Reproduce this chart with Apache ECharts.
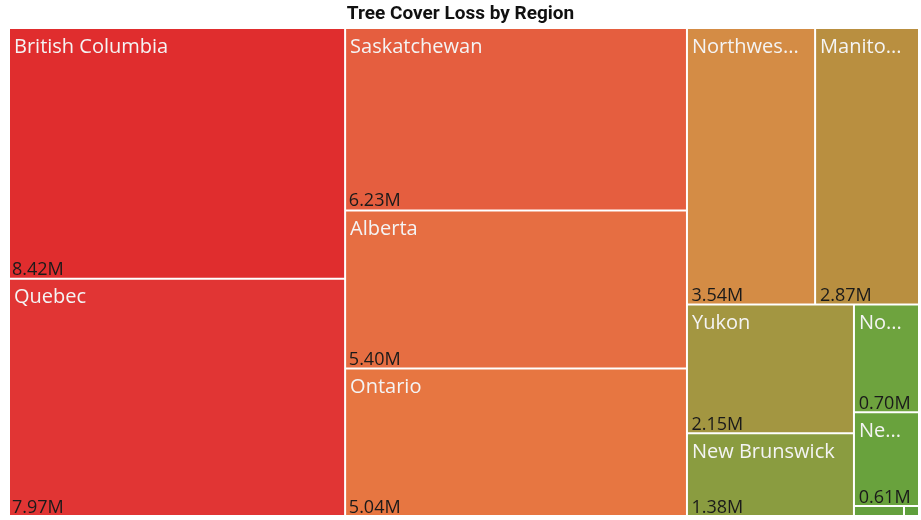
<!DOCTYPE html>
<html lang="en">
  <head>
    <meta charset="UTF-8" />
    <script src="https://cdn.jsdelivr.net/npm/echarts@6/dist/echarts.min.js"></script>
    <title>Tree Cover Loss by Region</title>
    <style>
      body { margin: 0; background: #fff; }
      #container { width: 921px; height: 520px; }
    </style>
  </head>
  <body>
    <div id="container"></div>
    <script>
      // tree cover loss, millions of hectares
      const regions = [
        "British Columbia", "Quebec", "Saskatchewan", "Alberta", "Ontario",
        "Northwest Territories", "Manitoba", "Yukon", "New Brunswick",
        "Nova Scotia", "Newfoundland and Labrador", "Prince Edward Island", "Nunavut"
      ];
      const loss = [8.42, 7.97, 6.23, 5.40, 5.04, 3.54, 2.87, 2.15, 1.38, 0.70, 0.61, 0.05, 0.015];
      const colors = [
        "#e02d2e", "#e13534", "#e55e3f", "#e66e42", "#e77641",
        "#d48c45", "#b98f40", "#a39641", "#8a9c40",
        "#6ea33e", "#69a23d", "#64a03d", "#5e9f3c"
      ];

      const chart = echarts.init(document.getElementById("container"));

      const data = regions.map((name, i) => ({
        name: name,
        value: loss[i],
        itemStyle: { color: colors[i] }
      }));

      const box = { left: 8, top: 27, width: 912, height: 490 };

      const common = {
        type: "treemap",
        ...box,
        roam: false,
        nodeClick: false,
        breadcrumb: { show: false },
        animation: false
      };

      chart.setOption({
        title: {
          text: "Tree Cover Loss by Region",
          left: "center",
          top: 0,
          textStyle: { fontFamily: "Roboto", fontWeight: "bold", fontSize: 19, color: "#111" }
        },
        series: [
          {
            ...common,
            data: data,
            itemStyle: { borderColor: "#fff", borderWidth: 1, gapWidth: 0 },
            label: {
              show: true,
              position: "insideTopLeft",
              distance: 0,
              fontFamily: "Open Sans",
              fontSize: 20,
              color: "#f4f4f4",
              padding: [8, 13, 0, 4],
              overflow: "truncate",
              ellipsis: "...",
              formatter: (p) => (p.value < 0.1 ? "" : p.name)
            }
          },
          {
            ...common,
            silent: true,
            data: data.map((d) => ({ ...d, itemStyle: { color: "rgba(0,0,0,0)" } })),
            itemStyle: { borderWidth: 0, gapWidth: 0 },
            label: {
              show: true,
              position: "insideBottomLeft",
              distance: 0,
              fontFamily: "Open Sans",
              fontSize: 18,
              lineHeight: 18,
              color: "#1a1a1a",
              padding: [0, 0, 0, 4],
              formatter: (p) => (p.value < 0.1 ? "" : p.value.toFixed(2) + "M")
            }
          }
        ]
      });
    </script>
  </body>
</html>
